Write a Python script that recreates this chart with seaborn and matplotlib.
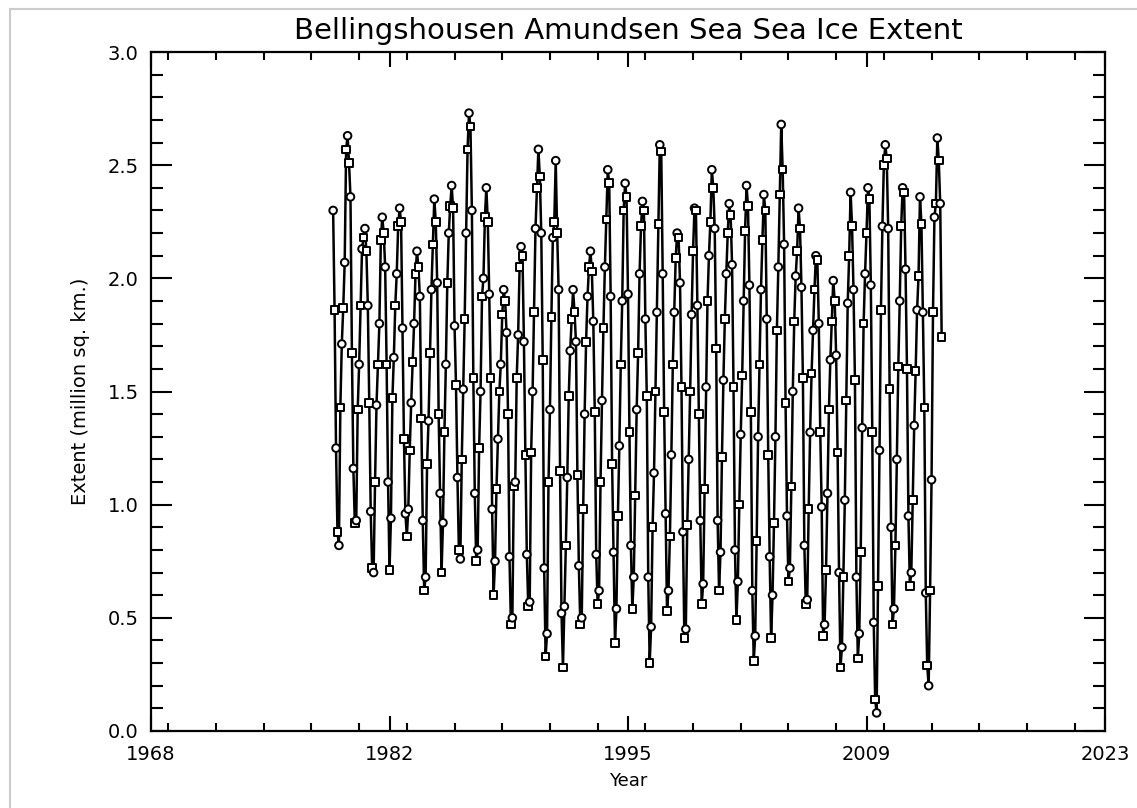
import numpy as np
import pandas as pd
import matplotlib
matplotlib.use('Agg')
import matplotlib.pyplot as plt
from matplotlib.ticker import MultipleLocator
from matplotlib.lines import Line2D
import seaborn as sns

# === Monthly extent (million sq. km), Jan..Dec for each year ===
first_time = 1978.5          # axis position of the first sample (Nov 1978)
y1978 = [2.30, 1.86]          # Nov, Dec only
y1979 = [1.25, 0.88, 0.82, 1.43, 1.71, 1.87, 2.07, 2.57, 2.63, 2.51, 2.36, 1.67]
y1980 = [1.16, 0.92, 0.93, 1.42, 1.62, 1.88, 2.13, 2.18, 2.22, 2.12, 1.88, 1.45]
y1981 = [0.97, 0.72, 0.70, 1.10, 1.44, 1.62, 1.80, 2.17, 2.27, 2.20, 2.05, 1.62]
y1982 = [1.10, 0.71, 0.94, 1.47, 1.65, 1.88, 2.02, 2.23, 2.31, 2.25, 1.78, 1.29]
y1983 = [0.96, 0.86, 0.98, 1.24, 1.45, 1.63, 1.80, 2.02, 2.12, 2.05, 1.92, 1.38]
y1984 = [0.93, 0.62, 0.68, 1.18, 1.37, 1.67, 1.95, 2.15, 2.35, 2.25, 1.98, 1.40]
y1985 = [1.05, 0.70, 0.92, 1.32, 1.62, 1.98, 2.20, 2.32, 2.41, 2.31, 1.79, 1.53]
y1986 = [1.12, 0.80, 0.76, 1.20, 1.51, 1.82, 2.20, 2.57, 2.73, 2.67, 2.30, 1.56]
y1987 = [1.05, 0.75, 0.80, 1.25, 1.50, 1.92, 2.00, 2.27, 2.40, 2.25, 1.93, 1.56]
y1988 = [0.98, 0.60, 0.75, 1.07, 1.29, 1.50, 1.62, 1.84, 1.95, 1.90, 1.76, 1.40]
y1989 = [0.77, 0.47, 0.50, 1.08, 1.10, 1.56, 1.75, 2.05, 2.14, 2.10, 1.72, 1.22]
y1990 = [0.78, 0.55, 0.57, 1.23, 1.50, 1.85, 2.22, 2.40, 2.57, 2.45, 2.20, 1.64]
y1991 = [0.72, 0.33, 0.43, 1.10, 1.42, 1.83, 2.18, 2.25, 2.52, 2.20, 1.95, 1.15]
y1992 = [0.52, 0.28, 0.55, 0.82, 1.12, 1.48, 1.68, 1.82, 1.95, 1.85, 1.72, 1.13]
y1993 = [0.73, 0.47, 0.50, 0.98, 1.40, 1.72, 1.92, 2.05, 2.12, 2.03, 1.81, 1.41]
y1994 = [0.78, 0.56, 0.62, 1.10, 1.46, 1.78, 2.05, 2.26, 2.48, 2.42, 1.92, 1.18]
y1995 = [0.79, 0.39, 0.54, 0.95, 1.26, 1.62, 1.90, 2.30, 2.42, 2.36, 1.93, 1.32]
y1996 = [0.82, 0.54, 0.68, 1.04, 1.42, 1.67, 2.02, 2.23, 2.34, 2.30, 1.82, 1.48]
y1997 = [0.68, 0.30, 0.46, 0.90, 1.14, 1.50, 1.85, 2.24, 2.59, 2.56, 2.02, 1.41]
y1998 = [0.96, 0.53, 0.62, 0.86, 1.22, 1.62, 1.85, 2.09, 2.20, 2.18, 1.98, 1.52]
y1999 = [0.88, 0.41, 0.45, 0.91, 1.20, 1.50, 1.84, 2.12, 2.31, 2.30, 1.88, 1.40]
y2000 = [0.93, 0.56, 0.65, 1.07, 1.52, 1.90, 2.10, 2.25, 2.48, 2.40, 2.22, 1.69]
y2001 = [0.93, 0.62, 0.79, 1.21, 1.55, 1.82, 2.02, 2.20, 2.33, 2.28, 2.06, 1.52]
y2002 = [0.80, 0.49, 0.66, 1.00, 1.31, 1.57, 1.90, 2.21, 2.41, 2.32, 1.97, 1.41]
y2003 = [0.62, 0.31, 0.42, 0.84, 1.30, 1.62, 1.95, 2.17, 2.37, 2.30, 1.82, 1.22]
y2004 = [0.77, 0.41, 0.60, 0.92, 1.30, 1.77, 2.05, 2.37, 2.68, 2.48, 2.15, 1.45]
y2005 = [0.95, 0.66, 0.72, 1.08, 1.50, 1.81, 2.01, 2.12, 2.31, 2.22, 1.96, 1.56]
y2006 = [0.82, 0.56, 0.58, 0.98, 1.32, 1.58, 1.77, 1.95, 2.10, 2.08, 1.80, 1.32]
y2007 = [0.99, 0.42, 0.47, 0.71, 1.05, 1.42, 1.64, 1.81, 1.99, 1.90, 1.66, 1.23]
y2008 = [0.70, 0.28, 0.37, 0.68, 1.02, 1.46, 1.89, 2.10, 2.38, 2.23, 1.95, 1.55]
y2009 = [0.68, 0.32, 0.43, 0.79, 1.34, 1.80, 2.02, 2.20, 2.40, 2.35, 1.97, 1.32]
y2010 = [0.48, 0.14, 0.08, 0.64, 1.24, 1.86, 2.23, 2.50, 2.59, 2.53, 2.22, 1.51]
y2011 = [0.90, 0.47, 0.54, 0.82, 1.20, 1.61, 1.90, 2.23, 2.40, 2.38, 2.04, 1.60]
y2012 = [0.95, 0.64, 0.70, 1.02, 1.35, 1.59, 1.86, 2.01, 2.36, 2.24, 1.85, 1.43]
y2013 = [0.61, 0.29, 0.20, 0.62, 1.11, 1.85, 2.27, 2.33, 2.62, 2.52, 2.33, 1.74]

years = [y1978, y1979, y1980, y1981, y1982, y1983, y1984, y1985, y1986, y1987,
         y1988, y1989, y1990, y1991, y1992, y1993, y1994, y1995, y1996, y1997,
         y1998, y1999, y2000, y2001, y2002, y2003, y2004, y2005, y2006, y2007,
         y2008, y2009, y2010, y2011, y2012, y2013]

x_ticks = [1968, 1981.75, 1995.5, 2009.25, 2023]
x_labels = ['1968', '1982', '1995', '2009', '2023']
y_ticks = [0.0, 0.5, 1.0, 1.5, 2.0, 2.5, 3.0]
y_labels = ['0.0', '0.5', '1.0', '1.5', '2.0', '2.5', '3.0']

extent = [v for yr in years for v in yr]
n = len(extent)
df = pd.DataFrame({
    'time': first_time + np.arange(n) / 12.0,
    'extent': extent,
    'sym': np.where(np.arange(n) % 2 == 0, 'c', 's'),
})

sns.set_style('ticks')
plt.rcParams['font.family'] = ['DejaVu Sans']
plt.rcParams['text.color'] = 'black'
plt.rcParams['xtick.color'] = 'black'
plt.rcParams['ytick.color'] = 'black'

fig = plt.figure(figsize=(11.37, 8.08), dpi=100)
ax = fig.add_axes([151 / 1137, 1 - 731 / 808, (1105 - 151) / 1137, (731 - 52) / 808])

# === Line + symbols ===
sns.lineplot(data=df, x='time', y='extent', color='black', lw=1.8,
             estimator=None, sort=False, ax=ax)
sns.scatterplot(data=df, x='time', y='extent', style='sym',
                markers={'c': 'o', 's': 's'}, s=30, color='white',
                edgecolor='black', linewidth=1.4, legend=False, zorder=3, ax=ax)

# === Axes ===
ax.set_xlim(1968, 2023)
ax.set_ylim(0, 3)
ax.set_xticks(x_ticks)
ax.set_xticklabels(x_labels)
ax.set_yticks(y_ticks)
ax.set_yticklabels(y_labels)
ax.xaxis.set_minor_locator(MultipleLocator(2.75))
ax.yaxis.set_minor_locator(MultipleLocator(0.1))
ax.tick_params(which='both', direction='in', top=True, right=True,
               width=1.5, labelsize=14, color='black', labelcolor='black')
ax.tick_params(axis='x', which='major', length=11, pad=10)
ax.tick_params(axis='x', which='minor', length=5.5)
ax.tick_params(axis='y', which='major', length=15, pad=9)
ax.tick_params(axis='y', which='minor', length=8.5)
for sp in ax.spines.values():
    sp.set_linewidth(1.6)
    sp.set_color('black')
ax.set_xlabel('')
ax.set_ylabel('')

fig.text(628 / 1137, 1 - 31 / 808, 'Bellingshousen Amundsen Sea Sea Ice Extent',
         ha='center', va='center', fontsize=21, color='black')
fig.text(628 / 1137, 1 - 781 / 808, 'Year', ha='center', va='center',
         fontsize=13, color='black')
fig.text(80 / 1137, 1 - 391 / 808, 'Extent (million sq. km.)', ha='center',
         va='center', rotation=90, fontsize=14, color='black')

# light frame at top / left edge of the picture
fig.add_artist(Line2D([10 / 1137, 1], [1 - 9 / 808] * 2, color='#cccccc', lw=1.5))
fig.add_artist(Line2D([10 / 1137] * 2, [0, 1 - 9 / 808], color='#cccccc', lw=1.5))

plt.savefig('out.png', dpi=100)
